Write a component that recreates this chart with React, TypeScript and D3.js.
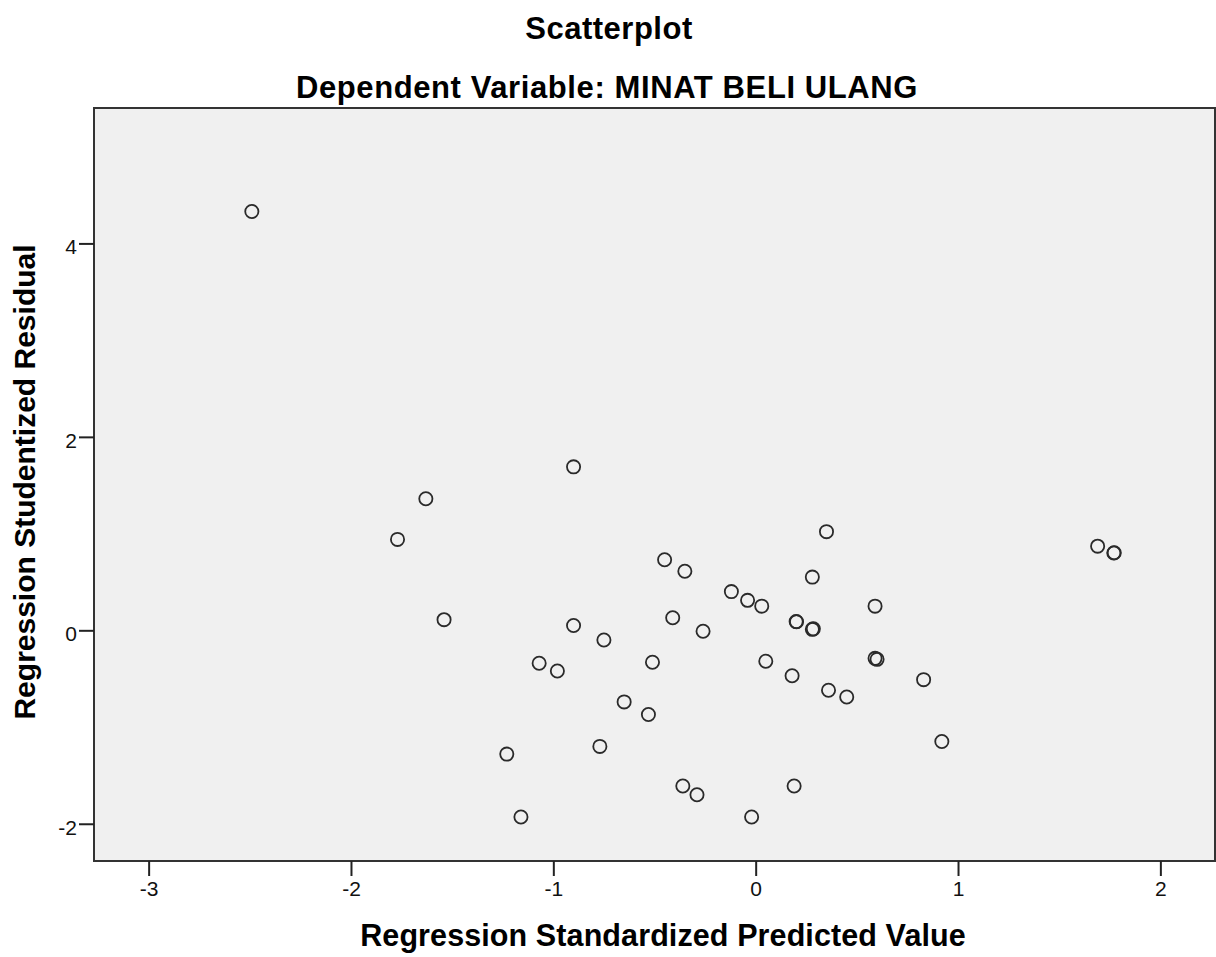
import React, { useRef, useEffect } from "react";
import * as d3 from "d3";

const predicted = [
  -2.49, -0.9, -1.63, -1.77, -1.54, 0.35, -0.45, -0.35, 0.28, -0.12,
  -0.04, 0.03, 0.59, 0.2, 0.202, 0.28, 0.285, -0.41, -0.9, -0.75,
  -0.26, -1.07, -0.98, -0.51, 0.05, 0.18, 0.59, 0.6, 0.36, 0.45,
  0.83, -0.65, -0.53, 0.92, -1.23, -0.77, -0.36, -0.29, 0.19, -1.16,
  -0.02, 1.69, 1.77, 1.772,
];
const residual = [
  4.33, 1.69, 1.36, 0.94, 0.11, 1.02, 0.73, 0.61, 0.55, 0.4,
  0.31, 0.25, 0.25, 0.09, 0.088, 0.01, 0.015, 0.13, 0.05, -0.1,
  -0.01, -0.34, -0.42, -0.33, -0.32, -0.47, -0.29, -0.3, -0.62, -0.69,
  -0.51, -0.74, -0.87, -1.15, -1.28, -1.2, -1.61, -1.7, -1.61, -1.93,
  -1.93, 0.87, 0.8, 0.802,
];
const xTicks = [-3, -2, -1, 0, 1, 2];
const yTicks = [-2, 0, 2, 4];

const title = "Scatterplot";
const subtitle = "Dependent Variable: MINAT BELI ULANG";
const xLabel = "Regression Standardized Predicted Value";
const yLabel = "Regression Studentized Residual";

const App = () => {
  const ref = useRef<SVGSVGElement | null>(null);

  useEffect(() => {
    const W = 1216;
    const left = 94, right = 1215, top = 108, bottom = 861;
    const font = "'Liberation Sans', Arial, sans-serif";

    const svg = d3.select(ref.current);
    svg.selectAll("*").remove();

    const x = d3.scaleLinear().domain([-3.27, 2.27]).range([left, right]);
    const y = d3.scaleLinear().domain([-2.385, 5.4]).range([bottom, top]);

    // titles (SPSS renders them a bit wide)
    svg.append("text")
      .attr("x", W / 2 + 1).attr("y", 39)
      .attr("text-anchor", "middle")
      .style("font-family", font).style("font-size", "31px").style("font-weight", "bold")
      .style("letter-spacing", "0.5px")
      .text(title);
    svg.append("text")
      .attr("x", W / 2 - 1).attr("y", 98)
      .attr("text-anchor", "middle")
      .style("font-family", font).style("font-size", "31px").style("font-weight", "bold")
      .style("letter-spacing", "0.6px")
      .text(subtitle);

    // plot area
    svg.append("rect")
      .attr("x", left).attr("y", top)
      .attr("width", right - left).attr("height", bottom - top)
      .attr("fill", "#f0f0f0")
      .attr("stroke", "#333").attr("stroke-width", 2);

    // x axis
    const xAxis = svg.append("g")
      .attr("transform", `translate(0,${bottom})`)
      .call(d3.axisBottom(x).tickValues(xTicks).tickSize(15).tickPadding(5).tickFormat(d => String(d)));
    xAxis.select(".domain").remove();
    xAxis.selectAll("line").attr("stroke", "#222").attr("stroke-width", 2);
    xAxis.selectAll("text")
      .style("font-family", font).style("font-size", "21px").attr("fill", "#111");

    // y axis
    const yAxis = svg.append("g")
      .attr("transform", `translate(${left},0)`)
      .call(d3.axisLeft(y).tickValues(yTicks).tickSize(15).tickPadding(2).tickFormat(d => String(d)));
    yAxis.select(".domain").remove();
    yAxis.selectAll("line").attr("stroke", "#222").attr("stroke-width", 2);
    yAxis.selectAll("text")
      .attr("dy", "0.5em")
      .style("font-family", font).style("font-size", "21px").attr("fill", "#111");

    // axis labels
    svg.append("text")
      .attr("x", 663).attr("y", 946)
      .attr("text-anchor", "middle")
      .style("font-family", font).style("font-size", "30.5px").style("font-weight", "bold")
      .style("letter-spacing", "0.1px")
      .text(xLabel);
    svg.append("text")
      .attr("transform", `translate(35,${482}) rotate(-90)`)
      .attr("text-anchor", "middle")
      .style("font-family", font).style("font-size", "30px").style("font-weight", "bold")
      .text(yLabel);

    // points
    svg.append("g")
      .selectAll("circle")
      .data(predicted.map((p, i) => ({ p, r: residual[i] })))
      .enter()
      .append("circle")
      .attr("cx", d => x(d.p))
      .attr("cy", d => y(d.r))
      .attr("r", 6.6)
      .attr("fill", "none")
      .attr("stroke", "#2a2a2a")
      .attr("stroke-width", 1.8);
  }, []);

  return (
    <div style={{ position: "absolute", left: 0, top: 0, background: "#fff" }}>
      <svg ref={ref} width={1216} height={957} style={{ display: "block" }} />
    </div>
  );
};

export default App;
